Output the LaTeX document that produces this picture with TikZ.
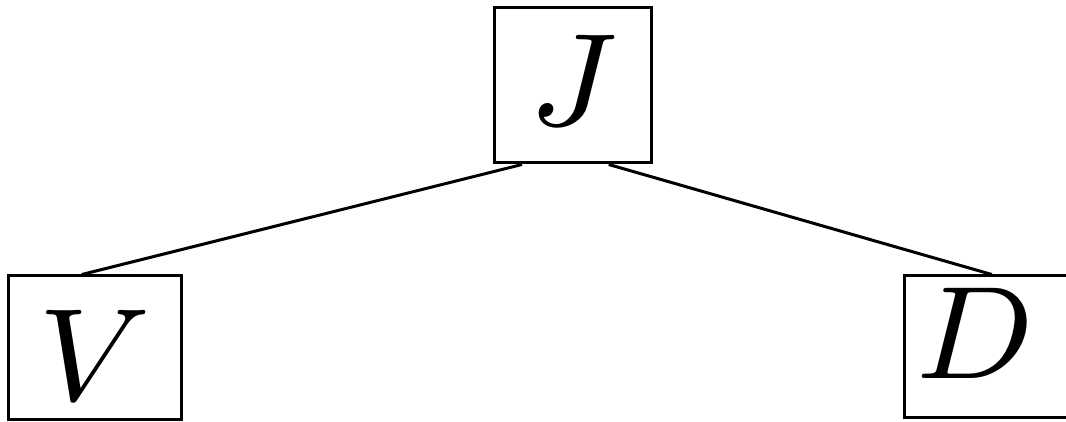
\documentclass[tikz,border=0pt]{standalone}
\usepackage{amsmath}
\usetikzlibrary{calc}
\DeclareFontFamily{OML}{cmm}{\skewchar\font'177}
\DeclareFontShape{OML}{cmm}{m}{it}{<->cmmi8}{}

\begin{document}
\begin{tikzpicture}[x=1pt,y=-1pt,
    laukelis/.style={draw,line width=3pt,inner sep=0pt,anchor=base,minimum width=173pt,font=\fontsize{132}{140}\selectfont}]
    \useasboundingbox (0,0) rectangle (1066,422);
    
    \node[laukelis,minimum width=157.5pt,text height=117.5pt,text depth=37.5pt] (J) at (572.75,125.5) {$J$};
    \node[laukelis,text height=124pt,text depth=19pt] (V) at (94.5,400) {$V$};
    \node[laukelis,minimum width=200pt,text height=102pt,text depth=39pt] (D) at (1004,378) {$D$\kern58pt};
    
    % Jungiamosios linijos
    \draw[line width=3pt] ($(J.south west)!0.184!(J.south east)$) -- ($(V.north west)!0.428!(V.north east)$);
    \draw[line width=3pt] ($(J.south west)!0.724!(J.south east)$) -- ($(D.north west)!0.44!(D.north east)$);
\end{tikzpicture}
\end{document}
